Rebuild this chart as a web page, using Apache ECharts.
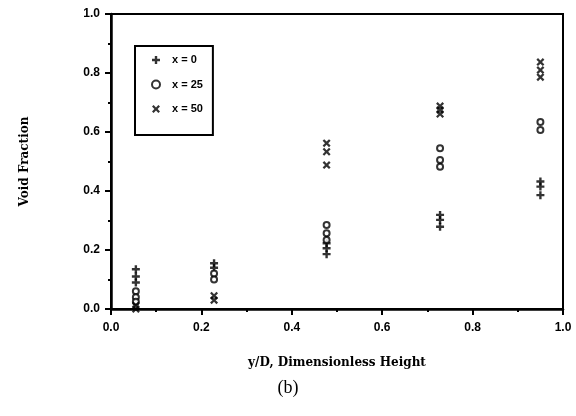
<!DOCTYPE html>
<html>
<head>
<meta charset="utf-8">
<script src="https://cdn.jsdelivr.net/npm/echarts@6/dist/echarts.min.js"></script>
<style>html,body{margin:0;padding:0;background:#fff}#c{width:576px;height:416px}</style>
</head>
<body>
<div id="c"></div>
<script>
// Dimensionless height positions of the measurement stations
const heights = [0.055, 0.228, 0.477, 0.728, 0.95];
// Void fraction readings at each height, per series
const x0Values = [[0.135, 0.11, 0.09], [0.155, 0.14], [0.223, 0.206, 0.186], [0.319, 0.302, 0.279], [0.432, 0.415, 0.386]];
const x25Values = [[0.06, 0.04, 0.025], [0.12, 0.10], [0.285, 0.257, 0.234], [0.545, 0.505, 0.482], [0.634, 0.607]];
const x50Values = [[0.012, 0.0], [0.045, 0.03], [0.562, 0.533, 0.488], [0.688, 0.675, 0.661], [0.837, 0.81, 0.786]];
const seriesNames = ['x = 0', 'x = 25', 'x = 50'];
const xTitle = 'y/D, Dimensionless Height';
const yTitle = 'Void Fraction';
const caption = '(b)';

function toPoints(vals) {
  const pts = [];
  vals.forEach((arr, i) => arr.forEach(v => pts.push([heights[i], v])));
  return pts;
}

const plusPath = 'path://M2.8,0H5.2V2.8H8V5.2H5.2V8H2.8V5.2H0V2.8H2.8Z';
const crossPath = 'path://M1.6,0L4,2.4L6.4,0L8,1.6L5.6,4L8,6.4L6.4,8L4,5.6L1.6,8L0,6.4L2.4,4L0,1.6Z';

const chart = echarts.init(document.getElementById('c'), null, {renderer: 'canvas'});
const tickFont = {fontFamily: 'Liberation Sans', fontWeight: 'bold', fontSize: 12, color: '#000'};
const axisCommon = {
  min: 0, max: 1, interval: 0.2,
  axisLine: {show: true, onZero: false, lineStyle: {color: '#000', width: 2.5}},
  axisTick: {show: true, inside: false, length: 6, lineStyle: {color: '#000', width: 2}},
  minorTick: {show: true, splitNumber: 2, length: 3, lineStyle: {color: '#000', width: 2}},
  splitLine: {show: false},
  axisLabel: Object.assign({formatter: v => v.toFixed(1)}, tickFont),
  nameLocation: 'middle',
  nameTextStyle: {fontFamily: 'DejaVu Serif', fontWeight: 'bold', fontSize: 12, color: '#000'}
};

chart.setOption({
  animation: false,
  backgroundColor: '#fff',
  grid: {left: 111, right: 13, top: 14, bottom: 107, show: true, borderColor: '#000', borderWidth: 2},
  xAxis: Object.assign({}, axisCommon, {
    type: 'value', name: xTitle, nameGap: 48,
    axisLabel: Object.assign({}, axisCommon.axisLabel, {margin: 13})
  }),
  yAxis: Object.assign({}, axisCommon, {
    type: 'value', name: yTitle, nameGap: 80, nameRotate: 90,
    axisLabel: Object.assign({}, axisCommon.axisLabel, {margin: 11})
  }),
  legend: {
    orient: 'vertical', left: 135, top: 46,
    padding: [7, 10, 19, 16],
    itemGap: 10.5, itemWidth: 8, itemHeight: 8,
    borderColor: '#000', borderWidth: 2,
    textStyle: {fontFamily: 'Liberation Sans', fontWeight: 'bold', fontSize: 11, color: '#000', lineHeight: 14, padding: [0, 0, 0, 7]},
    data: seriesNames
  },
  series: [
    {name: seriesNames[0], type: 'scatter', symbol: plusPath, symbolSize: 8, itemStyle: {color: '#000'}, data: toPoints(x0Values)},
    {name: seriesNames[1], type: 'scatter', symbol: 'emptyCircle', symbolSize: 6, itemStyle: {color: '#000', borderColor: '#000', borderWidth: 2.5}, data: toPoints(x25Values)},
    {name: seriesNames[2], type: 'scatter', symbol: crossPath, symbolSize: 8, itemStyle: {color: '#000'}, data: toPoints(x50Values)}
  ],
  graphic: [
    {type: 'text', left: 'center', top: 379, style: {text: caption, font: '18px "Liberation Serif"', fill: '#000'}}
  ]
});
</script>
</body>
</html>
